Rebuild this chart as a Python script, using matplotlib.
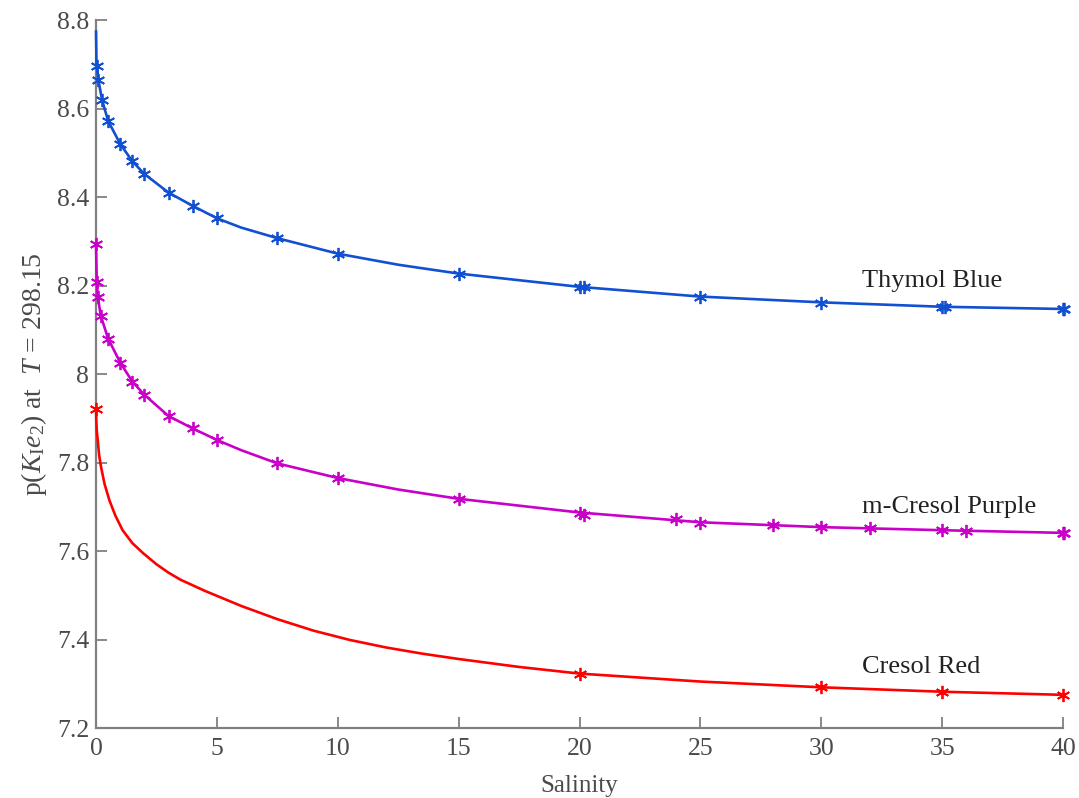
import matplotlib
matplotlib.use("Agg")
import matplotlib.pyplot as plt

# ---- data ----
# Thymol Blue
tb_curve_x = [0, 0.02, 0.1, 0.25, 0.5, 1, 1.5, 2, 3, 4, 5, 6, 7.5, 10, 12.5, 15, 20, 25, 30, 35, 40]
tb_curve_y = [8.774, 8.700, 8.664, 8.619, 8.572, 8.520, 8.481, 8.452, 8.410, 8.380, 8.352,
              8.331, 8.307, 8.272, 8.247, 8.227, 8.197, 8.175, 8.162, 8.152, 8.147]
tb_pts_x = [0.02, 0.1, 0.25, 0.5, 1, 1.5, 2, 3, 4, 5, 7.5, 10, 15, 20, 20.2, 25, 30, 35, 35.1, 40, 40.05]
tb_pts_y = [8.695, 8.664, 8.619, 8.572, 8.520, 8.481, 8.452, 8.410, 8.380, 8.352, 8.307,
            8.271, 8.226, 8.197, 8.196, 8.175, 8.161, 8.152, 8.152, 8.147, 8.147]

# m-Cresol Purple
mp_curve_x = [0, 0.03, 0.07, 0.2, 0.5, 1, 1.5, 2, 3, 4, 5, 6, 7.5, 10, 12.5, 15, 20, 25, 30, 35, 40]
mp_curve_y = [8.294, 8.209, 8.175, 8.131, 8.080, 8.026, 7.983, 7.953, 7.905, 7.877, 7.851,
              7.828, 7.798, 7.765, 7.739, 7.718, 7.687, 7.665, 7.654, 7.647, 7.641]
mp_pts_x = [0, 0.03, 0.07, 0.2, 0.5, 1, 1.5, 2, 3, 4, 5, 7.5, 10, 15, 20, 20.2, 24, 25, 28,
            30, 32, 35, 36, 40, 40.05]
mp_pts_y = [8.294, 8.209, 8.175, 8.131, 8.080, 8.026, 7.983, 7.953, 7.905, 7.877, 7.851,
            7.798, 7.765, 7.718, 7.687, 7.682, 7.672, 7.664, 7.659, 7.654, 7.652, 7.647,
            7.645, 7.641, 7.641]

# Cresol Red
cr_curve_x = [0, 0.01, 0.03, 0.07, 0.13, 0.2, 0.35, 0.55, 0.8, 1.1, 1.5, 1.95, 2.5, 3, 3.5,
              4.5, 6, 7.5, 9, 10.5, 12, 13.5, 15, 17.5, 20, 25, 30, 35, 40]
cr_curve_y = [7.922, 7.896, 7.872, 7.851, 7.816, 7.792, 7.752, 7.715, 7.680, 7.647, 7.618,
              7.595, 7.570, 7.551, 7.535, 7.510, 7.476, 7.446, 7.420, 7.399, 7.382, 7.368,
              7.356, 7.338, 7.323, 7.305, 7.292, 7.282, 7.275]
cr_pts_x = [0, 20, 30, 35, 40]
cr_pts_y = [7.922, 7.323, 7.292, 7.282, 7.275]

labels = ["Thymol Blue", "m-Cresol Purple", "Cresol Red"]
label_x = [31.7, 31.7, 31.7]
label_y = [8.210, 7.699, 7.338]

x_ticks = [0, 5, 10, 15, 20, 25, 30, 35, 40]
y_ticks = [7.2, 7.4, 7.6, 7.8, 8.0, 8.2, 8.4, 8.6, 8.8]
y_ticklabels = ["7.2", "7.4", "7.6", "7.8", "8", "8.2", "8.4", "8.6", "8.8"]

colors = ["#1150d0", "#c800c8", "#ff0000"]

# ---- plotting ----
plt.rcParams['font.family'] = ['Liberation Serif', 'DejaVu Serif']
plt.rcParams['mathtext.fontset'] = 'custom'
plt.rcParams['mathtext.rm'] = 'Liberation Serif'
plt.rcParams['mathtext.it'] = 'Liberation Serif:italic'

fig = plt.figure(figsize=(10.79, 7.98), dpi=100)
ax = fig.add_axes([0.0890, 0.0877, 0.8962, 0.8872])

marker = (6, 2, 0)
series = [
    (tb_curve_x, tb_curve_y, tb_pts_x, tb_pts_y),
    (mp_curve_x, mp_curve_y, mp_pts_x, mp_pts_y),
    (cr_curve_x, cr_curve_y, cr_pts_x, cr_pts_y),
]
for (cx, cy, px, py), c in zip(series, colors):
    ax.plot(cx, cy, color=c, lw=1.9, clip_on=False, zorder=3, solid_joinstyle='round')
    ax.plot(px, py, linestyle='none', marker=marker, ms=9.5, mew=1.3, color=c,
            clip_on=False, zorder=4)

for t, x, y in zip(labels, label_x, label_y):
    ax.text(x, y, t, fontsize=19, color='#222222', va='center', ha='left')

ax.set_xlim(0, 40)
ax.set_ylim(7.2, 8.8)
ax.set_xticks(x_ticks)
ax.set_xticklabels([str(v) for v in x_ticks])
ax.set_yticks(y_ticks)
ax.set_yticklabels(y_ticklabels)

for s in ['top', 'right']:
    ax.spines[s].set_visible(False)
for s in ['left', 'bottom']:
    ax.spines[s].set_color('#808080')
    ax.spines[s].set_linewidth(1.6)
ax.tick_params(direction='in', length=8, width=1.3, color='#808080',
               labelsize=18.5, labelcolor='#4a4a4a')
ax.tick_params(axis='y', pad=5)
ax.tick_params(axis='x', pad=7)

ax.set_xlabel('Salinity', fontsize=18, color='#4a4a4a', labelpad=11)
ax.set_ylabel(r'p($K_{\mathrm{I}}e_2$) at  $T$ = 298.15', fontsize=20, color='#4a4a4a',
              labelpad=6)

fig.savefig('out.png', dpi=100)
